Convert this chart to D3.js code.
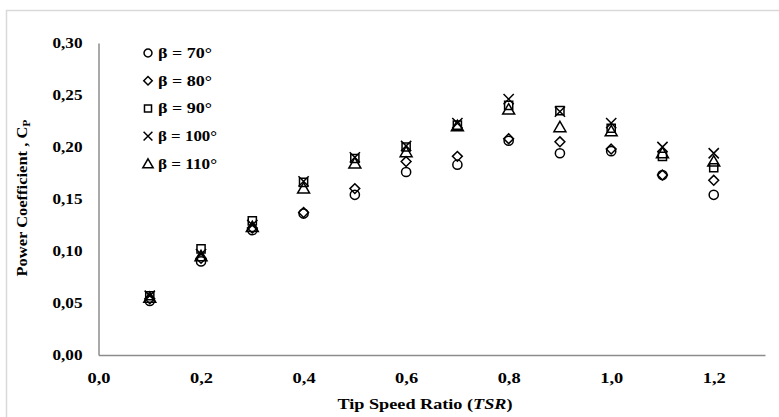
<!DOCTYPE html>
<html><head><meta charset="utf-8">
<script src="https://d3js.org/d3.v7.min.js"></script>
<style>body{margin:0;background:#fff}svg{display:block}</style>
</head><body>
<script>
const tsr = [0.1,0.2,0.3,0.4,0.5,0.6,0.7,0.8,0.9,1.0,1.1,1.2];
const beta70  = [0.052,0.090,0.120,0.136,0.154,0.176,0.183,0.206,0.194,0.196,0.173,0.154];
const beta80  = [0.054,0.093,0.122,0.137,0.160,0.186,0.191,0.208,0.205,0.198,0.173,0.168];
const beta90  = [0.057,0.102,0.129,0.166,0.189,0.200,0.221,0.240,0.235,0.218,0.191,0.180];
const beta100 = [0.057,0.097,0.125,0.167,0.190,0.201,0.223,0.246,0.234,0.223,0.200,0.194];
const beta110 = [0.055,0.095,0.123,0.160,0.184,0.195,0.220,0.236,0.219,0.215,0.194,0.186];
const seriesNames = ["β = 70°","β = 80°","β = 90°","β = 100°","β = 110°"];
const xTicks = [0,0.2,0.4,0.6,0.8,1.0,1.2];
const yTicks = [0,0.05,0.10,0.15,0.20,0.25,0.30];

const W=779,H=417;
const svg=d3.select("body").append("svg").attr("width",W).attr("height",H);
svg.append("rect").attr("x",6.5).attr("y",10.5).attr("width",900).attr("height",600)
  .attr("fill","none").attr("stroke","#d9d9d9").attr("stroke-width",1.5);

const x=d3.scaleLinear().domain([0,1.3]).range([98.5,765]);
const y=d3.scaleLinear().domain([0,0.30]).range([355,43]);
const fmt=(d,n)=>d.toFixed(n).replace(".",",");
const font="'Liberation Serif','Times New Roman',serif";

// axes
const xa=svg.append("g").attr("transform",`translate(0,${y(0)})`)
  .call(d3.axisBottom(x).tickValues(xTicks).tickSize(0).tickPadding(18).tickFormat(d=>fmt(d,1)));
const ya=svg.append("g").attr("transform",`translate(${x(0)},0)`)
  .call(d3.axisLeft(y).tickValues(yTicks).tickSize(0).tickPadding(16).tickFormat(d=>fmt(d,2)));
[xa,ya].forEach(a=>{
  a.select(".domain").attr("stroke","#8c8c8c").attr("stroke-width",1.5);
  a.selectAll("text").attr("font-family",font).attr("font-weight","bold").attr("font-size",14.5).attr("fill","#000")
   .attr("lengthAdjust","spacingAndGlyphs");
});
xa.selectAll("text").attr("dy","0.71em").attr("textLength",23);
ya.selectAll("text").attr("textLength",30);

// titles
const xt=svg.append("text").attr("x",425).attr("y",409).attr("text-anchor","middle")
  .attr("font-family",font).attr("font-weight","bold").attr("font-size",14.5)
  .attr("textLength",175).attr("lengthAdjust","spacingAndGlyphs");
xt.append("tspan").text("Tip Speed Ratio (");
xt.append("tspan").attr("font-style","italic").text("TSR");
xt.append("tspan").text(")");
const yt=svg.append("text").attr("transform","translate(27,198) rotate(-90)").attr("text-anchor","middle")
  .attr("font-family",font).attr("font-weight","bold").attr("font-size",14)
  .attr("textLength",157).attr("lengthAdjust","spacingAndGlyphs");
yt.append("tspan").text("Power Coefficient , C");
yt.append("tspan").attr("font-size",10).attr("dy",3).text("P");

// markers
const diamond={draw(ctx,size){const r=Math.sqrt(size/2);ctx.moveTo(0,-r);ctx.lineTo(r,0);ctx.lineTo(0,r);ctx.lineTo(-r,0);ctx.closePath();}};
const sym=[d3.symbolCircle,diamond,d3.symbolSquare,d3.symbolX,d3.symbolTriangle];
const sizes=[66,48,66,70,62];
const series=[beta70,beta80,beta90,beta100,beta110];
function marker(g,i,s){
  g.append("path").attr("d",d3.symbol().type(sym[i]).size(sizes[i]*(s||1))())
   .attr("fill","none").attr("stroke","#000").attr("stroke-width",1.5)
   .attr("transform",i===4?"translate(0,1)":null);
}
series.forEach((vals,i)=>{
  const g=svg.append("g");
  vals.forEach((v,j)=>{
    const m=g.append("g").attr("transform",`translate(${x(tsr[j])},${y(v)})`);
    marker(m,i);
  });
});

// legend
const legLen=[54,54,54,59,59];
seriesNames.forEach((n,i)=>{
  const yy=53+i*27.7;
  const m=svg.append("g").attr("transform",`translate(148,${yy})`);
  marker(m,i,0.75);
  svg.append("text").attr("x",158).attr("y",yy+5).attr("font-family",font)
    .attr("font-weight","bold").attr("font-size",14).attr("textLength",legLen[i])
    .attr("lengthAdjust","spacingAndGlyphs").text(n);
});
</script>
</body></html>
